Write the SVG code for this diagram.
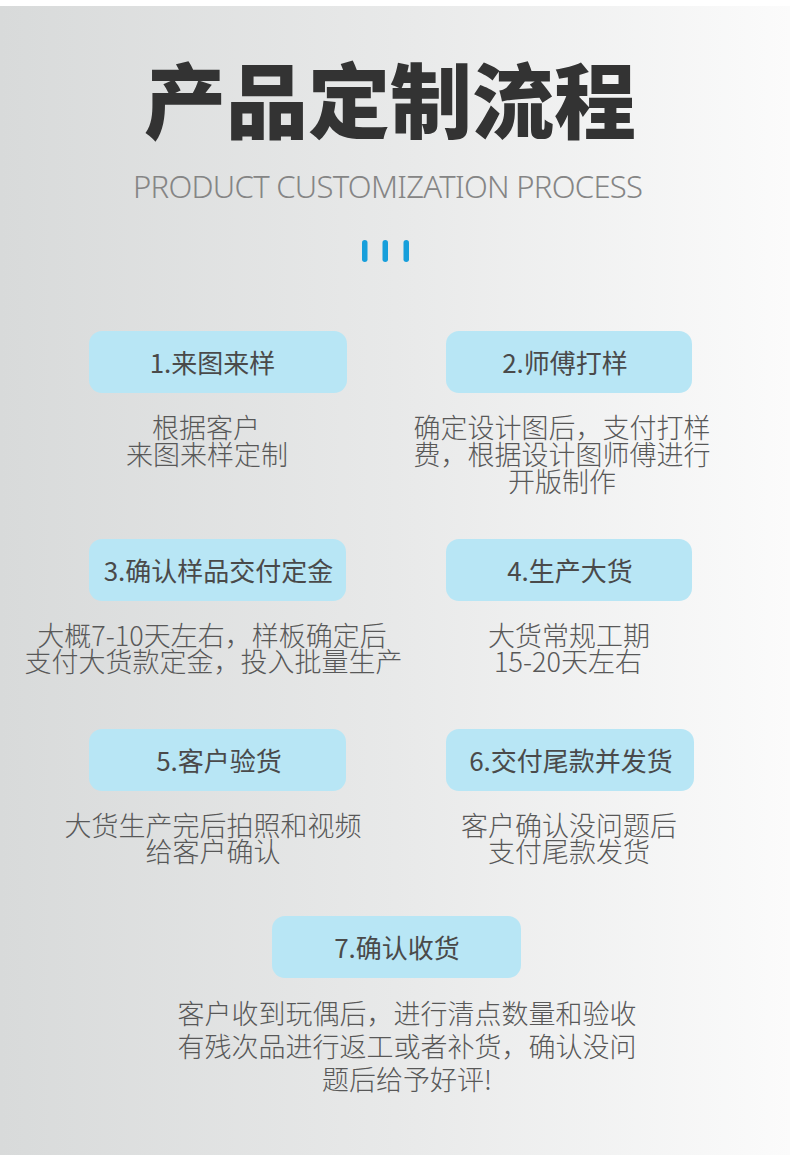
<svg xmlns="http://www.w3.org/2000/svg" width="790" height="1155" viewBox="0 0 790 1155">
<defs>
<linearGradient id="bg" x1="0" y1="0" x2="1" y2="0">
<stop offset="0" stop-color="#d8dada"/>
<stop offset="0.5" stop-color="#e8e9e9"/>
<stop offset="1" stop-color="#fbfbfb"/>
</linearGradient>
<style>
.box{fill:#b8e6f5}
.lbl{font-family:"Noto Sans CJK SC","Noto Sans",sans-serif;font-size:26px;fill:#4a4a4a;text-anchor:middle;font-weight:400}
.desc{font-family:"Noto Sans CJK SC","Noto Sans",sans-serif;font-size:27px;fill:#585858;text-anchor:middle;font-weight:300}
.bar{fill:#179fdb}
</style>
</defs>
<rect x="0" y="0" width="790" height="1155" fill="#ffffff"/>
<rect x="0" y="6" width="790" height="1149" fill="url(#bg)"/>
<g id="title">
<text x="390" y="132" font-family="Noto Sans CJK SC,sans-serif" font-size="82" font-weight="900" fill="#333333" text-anchor="middle">产品定制流程</text>
<text x="388" y="198" font-family="Noto Sans,sans-serif" font-size="31" font-weight="300" fill="#858585" text-anchor="middle" textLength="510" lengthAdjust="spacing">PRODUCT CUSTOMIZATION PROCESS</text>
<rect class="bar" x="362" y="240" width="5.5" height="22" rx="2.75"/>
<rect class="bar" x="382.5" y="240" width="5.5" height="22" rx="2.75"/>
<rect class="bar" x="403.5" y="240" width="5.5" height="22" rx="2.75"/>
</g>
<g id="connectors"/>
<g id="step1">
<rect class="box" x="89" y="331" width="258" height="62" rx="13"/>
<text class="lbl" x="212.5" y="373">1.来图来样</text>
<text class="desc"><tspan x="206" y="438">根据客户</tspan><tspan x="207" y="465">来图来样定制</tspan></text>
</g>
<g id="step2">
<rect class="box" x="446" y="331" width="246" height="62" rx="13"/>
<text class="lbl" x="565" y="373">2.师傅打样</text>
<text class="desc"><tspan x="562" y="438">确定设计图后，支付打样</tspan><tspan x="562" y="465">费，根据设计图师傅进行</tspan><tspan x="562" y="492">开版制作</tspan></text>
</g>
<g id="step3">
<rect class="box" x="89" y="539" width="257" height="62" rx="13"/>
<text class="lbl" x="218.5" y="581">3.确认样品交付定金</text>
<text class="desc"><tspan x="212" y="646">大概7-10天左右，样板确定后</tspan><tspan x="213.5" y="672">支付大货款定金，投入批量生产</tspan></text>
</g>
<g id="step4">
<rect class="box" x="446" y="539" width="246" height="62" rx="13"/>
<text class="lbl" x="570" y="581">4.生产大货</text>
<text class="desc"><tspan x="569" y="646">大货常规工期</tspan><tspan x="568" y="672">15-20天左右</tspan></text>
</g>
<g id="step5">
<rect class="box" x="89" y="729" width="257" height="62" rx="13"/>
<text class="lbl" x="219" y="771">5.客户验货</text>
<text class="desc"><tspan x="213" y="836">大货生产完后拍照和视频</tspan><tspan x="213" y="862">给客户确认</tspan></text>
</g>
<g id="step6">
<rect class="box" x="446" y="729" width="248" height="62" rx="13"/>
<text class="lbl" x="571" y="771">6.交付尾款并发货</text>
<text class="desc"><tspan x="569" y="836">客户确认没问题后</tspan><tspan x="569" y="862">支付尾款发货</tspan></text>
</g>
<g id="step7">
<rect class="box" x="272" y="916" width="249" height="62" rx="13"/>
<text class="lbl" x="397" y="958">7.确认收货</text>
<text class="desc"><tspan x="407" y="1024">客户收到玩偶后，进行清点数量和验收</tspan><tspan x="407" y="1057">有残次品进行返工或者补货，确认没问</tspan><tspan x="407" y="1090">题后给予好评!</tspan></text>
</g>
</svg>
